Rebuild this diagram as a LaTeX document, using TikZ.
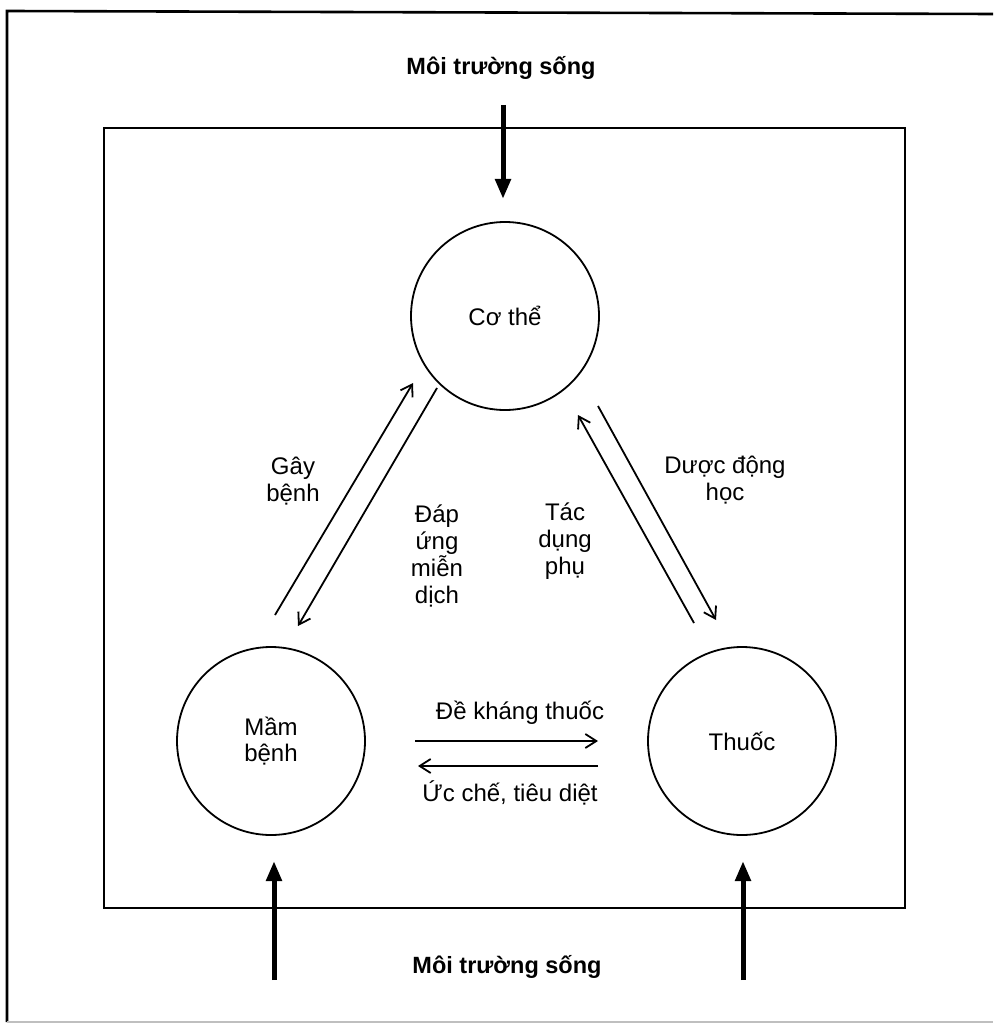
\documentclass[tikz,border=0pt]{standalone}
\usepackage{fontspec}
\setmainfont{Liberation Sans}
\usetikzlibrary{arrows.meta}
\begin{document}
\begin{tikzpicture}[x=1pt,y=-1pt,
  lbl/.style={font=\fontsize{24}{27}\selectfont, align=center, inner sep=0pt},
  hdr/.style={font=\bfseries\fontsize{23.5}{26}\selectfont, inner sep=0pt},
  ent/.style={circle, draw, line width=1.8pt, minimum size=188pt, inner sep=0pt, font=\fontsize{24}{26}\selectfont, align=center},
  thinarr/.style={line width=1.8pt, -{Straight Barb[length=11pt,width=14pt,line width=1.8pt]}},
  thickarr/.style={line width=5pt, -{Triangle[length=20pt,width=15pt]}},
  frame/.style={line width=2.6pt}
]
\useasboundingbox (0,0) rectangle (993,1024);
\fill[white] (0,0) rectangle (993,1024);
% outer frame
\draw[frame] (7,1022) -- (7,11) -- (993,14);
\draw[line width=1.5pt, black!25] (7,1022) -- (993,1022);
% inner frame
\draw[frame] (104,128) rectangle (905,908);

% entities
\node[ent] (co) at (505,316) {Cơ thể};
\node[ent] (mam) at (271,741) {Mầm\\bệnh};
\node[ent] (thuoc) at (742,741) {Thuốc};

% headers
\node[hdr] (envtop) at (501,68) {Môi trường sống};
\node[hdr] (envbot) at (507,967) {Môi trường sống};

% thick arrows
\coordinate (t1) at (503,105);
\coordinate (t1e) at (503,199);
\draw[thickarr] (t1) -- (t1e);
\coordinate (b1) at (274,980);
\coordinate (b1e) at (274,861);
\draw[thickarr] (b1) -- (b1e);
\coordinate (b2) at (743,980);
\coordinate (b2e) at (743,861);
\draw[thickarr] (b2) -- (b2e);

% diagonal arrows
\coordinate (gs) at (275,615);
\coordinate (ge) at (413,383);
\draw[thinarr] (gs) -- (ge);
\coordinate (ds) at (437,388);
\coordinate (de) at (298,626);
\draw[thinarr] (ds) -- (de);
\coordinate (ts) at (694,623);
\coordinate (te) at (578,415);
\draw[thinarr] (ts) -- (te);
\coordinate (ps) at (598,406);
\coordinate (pe) at (716,620);
\draw[thinarr] (ps) -- (pe);

% horizontal arrows
\coordinate (ks) at (415,741);
\coordinate (ke) at (598,741);
\draw[thinarr] (ks) -- (ke);
\coordinate (us) at (598,766);
\coordinate (ue) at (418,766);
\draw[thinarr] (us) -- (ue);

% labels
\node[lbl] (lg) at (293,481) {Gây\\bệnh};
\node[lbl] (ld) at (437,556) {Đáp\\ứng\\miễn\\dịch};
\node[lbl] (lt) at (565,541) {Tác\\dụng\\phụ};
\node[lbl] (lp) at (725,480) {Dược động\\học};
\node[lbl] (lk) at (520,713) {Đề kháng thuốc};
\node[lbl] (lu) at (510,793) {Ức chế, tiêu diệt};
\end{tikzpicture}
\end{document}
